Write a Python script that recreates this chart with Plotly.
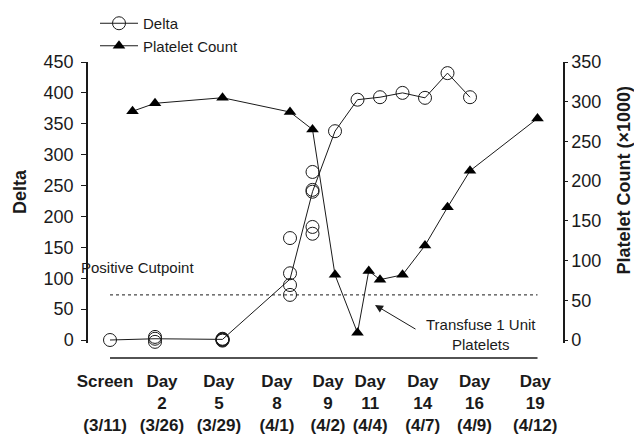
import numpy as np
import plotly.graph_objects as go

# ---------------- data ----------------
delta_days = [0, 2, 5, 8, 9, 10, 11, 12, 13, 14, 15, 16]
delta_values = [
    [0],
    [-3, 2, 5],
    [-1, 0, 1, 1, 2],
    [73, 89, 108, 165],
    [172, 183, 240, 243, 272],
    [338],
    [389],
    [393],
    [400],
    [392],
    [432],
    [393],
]

platelet_days = [1, 2, 5, 8, 9, 10, 11, 11.5, 12, 13, 14, 15, 16, 19]
platelet_counts = [288, 298, 305, 287, 265, 82, 9, 87, 76, 82, 119, 167, 213, 279]

positive_cutpoint = 73

tick_labels = [
    "Screen<br> <br>(3/11)",
    "Day<br>2<br>(3/26)",
    "Day<br>5<br>(3/29)",
    "Day<br>8<br>(4/1)",
    "Day<br>9<br>(4/2)",
    "Day<br>11<br>(4/4)",
    "Day<br>14<br>(4/7)",
    "Day<br>16<br>(4/9)",
    "Day<br>19<br>(4/12)",
]
tick_label_positions = [-0.22, 2.31, 4.84, 7.42, 9.69, 11.56, 13.9, 16.2, 18.9]

# ---------------- derived ----------------
pts_x = [d for d, vals in zip(delta_days, delta_values) for _ in vals]
pts_y = [v for vals in delta_values for v in vals]
delta_median = [float(np.median(v)) for v in delta_values]

INK = "#1a1a1a"
FONT = "Liberation Sans, Arial, sans-serif"

fig = go.Figure()

# Delta median line
fig.add_trace(go.Scatter(
    x=delta_days, y=delta_median, mode="lines",
    line=dict(color=INK, width=1), showlegend=False, hoverinfo="skip",
))
# Delta individual measurements
fig.add_trace(go.Scatter(
    x=pts_x, y=pts_y, mode="markers", name="Delta",
    marker=dict(symbol="circle-open", size=13, color=INK, line=dict(width=1, color=INK)),
    showlegend=False, cliponaxis=False,
))
# Legend entry for Delta (circle with line)
fig.add_trace(go.Scatter(
    x=[None], y=[None], mode="lines+markers", name="Delta",
    line=dict(color=INK, width=1),
    marker=dict(symbol="circle-open", size=13, color=INK, line=dict(width=1, color=INK)),
))
# Platelet count
fig.add_trace(go.Scatter(
    x=platelet_days, y=platelet_counts, mode="lines+markers", name="Platelet Count",
    yaxis="y2",
    line=dict(color=INK, width=1),
    marker=dict(symbol="triangle-up", size=11, color="black"),
    cliponaxis=False,
))

W, H = 634, 436
ML, MR, MT, MB = 88, 71, 62, 93
PH = H - MT - MB

def py(px):
    """paper y from pixel y"""
    return (H - MB - px) / PH

def pxx(px):
    return (px - ML) / (W - ML - MR)

fig.update_layout(
    width=W, height=H,
    margin=dict(l=ML, r=MR, t=MT, b=MB, pad=0, autoexpand=False),
    paper_bgcolor="white", plot_bgcolor="white",
    font=dict(family=FONT, color=INK, size=18),
    showlegend=True,
    legend=dict(
        x=pxx(95), y=py(7), xanchor="left", yanchor="top",
        bgcolor="rgba(0,0,0,0)", borderwidth=0,
        font=dict(size=15, family=FONT, color=INK),
        tracegroupgap=0, itemwidth=38,
    ),
    xaxis=dict(
        range=[-0.978, 20.133], showgrid=False, zeroline=False, showline=False,
        automargin=False,
        ticks="", tickmode="array", tickvals=tick_label_positions, ticktext=tick_labels,
        tickfont=dict(size=17, family=FONT, color=INK, weight="bold"),
        ticklabelstandoff=26,
    ),
    yaxis=dict(
        range=[-4.86, 450], showgrid=False, zeroline=False, automargin=False,
        showline=True, linecolor=INK, linewidth=1.5,
        ticks="outside", ticklen=5, tickwidth=1, tickcolor=INK,
        tickvals=list(range(0, 451, 50)), ticklabelstandoff=4,
        tickfont=dict(size=18, family=FONT, color=INK),
    ),
    yaxis2=dict(
        range=[-3.78, 350], overlaying="y", side="right", showgrid=False, zeroline=False,
        automargin=False,
        showline=True, linecolor=INK, linewidth=1.5,
        ticks="outside", ticklen=3, tickwidth=1, tickcolor=INK,
        tickvals=list(range(0, 351, 50)),
        tickfont=dict(size=18, family=FONT, color=INK),
    ),
    shapes=[
        # x baseline below the plot
        dict(type="line", xref="x", yref="paper", x0=0, x1=19, y0=py(358), y1=py(358),
             line=dict(color=INK, width=1.5)),
        # positive cutpoint
        dict(type="line", xref="x", yref="y", x0=0, x1=19,
             y0=positive_cutpoint, y1=positive_cutpoint,
             line=dict(color=INK, width=1, dash="dot")),
    ],
    annotations=[
        dict(text="Positive Cutpoint", xref="paper", yref="paper",
             x=pxx(79), y=py(267), xanchor="left", yanchor="middle",
             showarrow=False, font=dict(size=15, family=FONT, color=INK)),
        dict(text="Transfuse 1 Unit<br>Platelets", xref="paper", yref="paper",
             x=pxx(481), y=py(334), xanchor="center", yanchor="middle", align="center",
             showarrow=False, font=dict(size=15, family=FONT, color=INK)),
        dict(text="", xref="paper", yref="paper", x=pxx(375), y=py(305),
             ax=42, ay=25, axref="pixel", ayref="pixel",
             showarrow=True, arrowhead=2, arrowsize=1.6, arrowwidth=1, arrowcolor=INK,
             standoff=0),
        dict(text="<b>Delta</b>", xref="paper", yref="paper", x=pxx(20), y=py(192),
             textangle=-90, showarrow=False, xanchor="center", yanchor="middle",
             font=dict(size=18, family=FONT, color=INK)),
        dict(text="<b>Platelet Count (×1000)</b>", xref="paper", yref="paper",
             x=pxx(623), y=py(180.5), textangle=-90, showarrow=False,
             xanchor="center", yanchor="middle",
             font=dict(size=18, family=FONT, color=INK)),
    ],
)

fig.write_html(
    "out.html",
    config={"displayModeBar": False},
    post_script="document.body.style.margin='0px';document.body.style.padding='0px';",
)
